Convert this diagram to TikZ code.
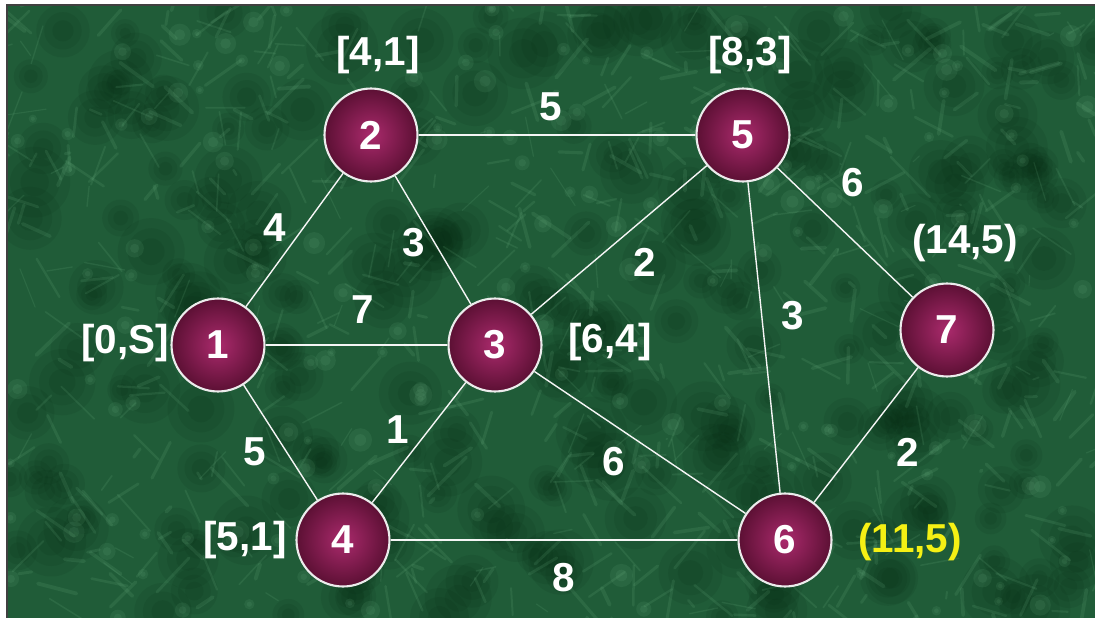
\documentclass[tikz,border=0pt]{standalone}
\usepackage{fontspec}
\setmainfont{Liberation Sans}
\definecolor{bggreen}{RGB}{32,92,56}
\definecolor{veingreen}{RGB}{125,195,148}
\definecolor{darkgreen}{RGB}{6,40,18}
\definecolor{ballin}{RGB}{170,42,108}
\definecolor{ballout}{RGB}{92,16,52}
\definecolor{tagyellow}{RGB}{245,240,20}
\tikzset{
  city/.style={circle, minimum size=1.86cm, inner sep=0pt,
    draw=white!85!gray, line width=1.2pt,
    inner color=ballin, outer color=ballout,
    text=white, font=\fontsize{23}{26}\selectfont\bfseries},
  road/.style={draw=white!92!gray, line width=0.8pt},
  weight/.style={text=white, font=\fontsize{23}{26}\selectfont\bfseries},
  tag/.style={text=white, font=\fontsize{23}{26}\selectfont\bfseries},
}
\begin{document}
\begin{tikzpicture}[x=0.02cm, y=-0.02cm]
    \useasboundingbox (0,0) rectangle (1095,618);
    \fill[white] (0,0) rectangle (1095,618);
    
    % textured green background
    \fill[bggreen] (7,5) rectangle (1095,618);
    \begin{scope}
      \clip (7,5) rectangle (1095,618);
      \pgfmathsetseed{17}
      \foreach \i in {1,...,260} {
        \pgfmathsetmacro{\px}{7+1088*rnd}
        \pgfmathsetmacro{\py}{5+613*rnd}
        \pgfmathsetmacro{\pr}{14+22*rnd}
        \fill[darkgreen, opacity=0.1] (\px,\py) circle (\pr);
        \fill[darkgreen, opacity=0.1] (\px,\py) circle (0.7*\pr);
        \fill[darkgreen, opacity=0.1] (\px,\py) circle (0.4*\pr);
      }
      \foreach \i in {1,...,650} {
        \pgfmathsetmacro{\px}{7+1088*rnd}
        \pgfmathsetmacro{\py}{5+613*rnd}
        \pgfmathsetmacro{\dx}{40*rand}
        \pgfmathsetmacro{\dy}{40*rand}
        \pgfmathsetmacro{\lw}{0.6+1.6*rnd}
        \draw[veingreen, opacity=0.13, line width=\lw pt, line cap=round]
          (\px,\py) -- ++(\dx,\dy);
      }
      \foreach \i in {1,...,160} {
        \pgfmathsetmacro{\px}{7+1088*rnd}
        \pgfmathsetmacro{\py}{5+613*rnd}
        \pgfmathsetmacro{\pr}{4+8*rnd}
        \fill[veingreen, opacity=0.1] (\px,\py) circle (\pr);
        \fill[veingreen, opacity=0.1] (\px,\py) circle (0.5*\pr);
      }
    \end{scope}
    \draw[black!75, line width=1pt] (7,618) -- (7,5) -- (1095,5);
    
    % vertices
    \node[city] (v1) at (218,345) {1};
    \node[city] (v2) at (371,135) {2};
    \node[city] (v3) at (495,345) {3};
    \node[city] (v4) at (343,540) {4};
    \node[city] (v5) at (743,135) {5};
    \node[city] (v6) at (785,540) {6};
    \node[city] (v7) at (947,330) {7};
    
    % edges
    \draw[road] (v1) -- (v2);
    \draw[road] (v1) -- (v3);
    \draw[road] (v1) -- (v4);
    \draw[road] (v2) -- (v3);
    \draw[road] (v2) -- (v5);
    \draw[road] (v3) -- (v4);
    \draw[road] (v3) -- (v5);
    \draw[road] (v3) -- (v6);
    \draw[road] (v4) -- (v6);
    \draw[road] (v5) -- (v6);
    \draw[road] (v5) -- (v7);
    \draw[road] (v6) -- (v7);
    
    % edge weights
    \node[weight] (w25) at (551,107) {5};
    \node[weight] (w12) at (275,228) {4};
    \node[weight] (w23) at (414,243) {3};
    \node[weight] (w13) at (363,310) {7};
    \node[weight] (w35) at (645,262) {2};
    \node[weight] (w57) at (853,183) {6};
    \node[weight] (w56) at (793,316) {3};
    \node[weight] (w34) at (398,430) {1};
    \node[weight] (w14) at (255,452) {5};
    \node[weight] (w36) at (614,462) {6};
    \node[weight] (w67) at (908,452) {2};
    \node[weight] (w46) at (564,578) {8};
    
    % vertex labels
    \node[tag] (t1) at (125,343) {[0,S]};
    \node[tag] (t2) at (378,55) {[4,1]};
    \node[tag] (t3) at (610,342) {[6,4]};
    \node[tag] (t4) at (245,540) {[5,1]};
    \node[tag] (t5) at (750,55) {[8,3]};
    \node[tag, text=tagyellow] (t6) at (910,542) {(11,5)};
    \node[tag] (t7) at (965,243) {(14,5)};
\end{tikzpicture}
\end{document}
